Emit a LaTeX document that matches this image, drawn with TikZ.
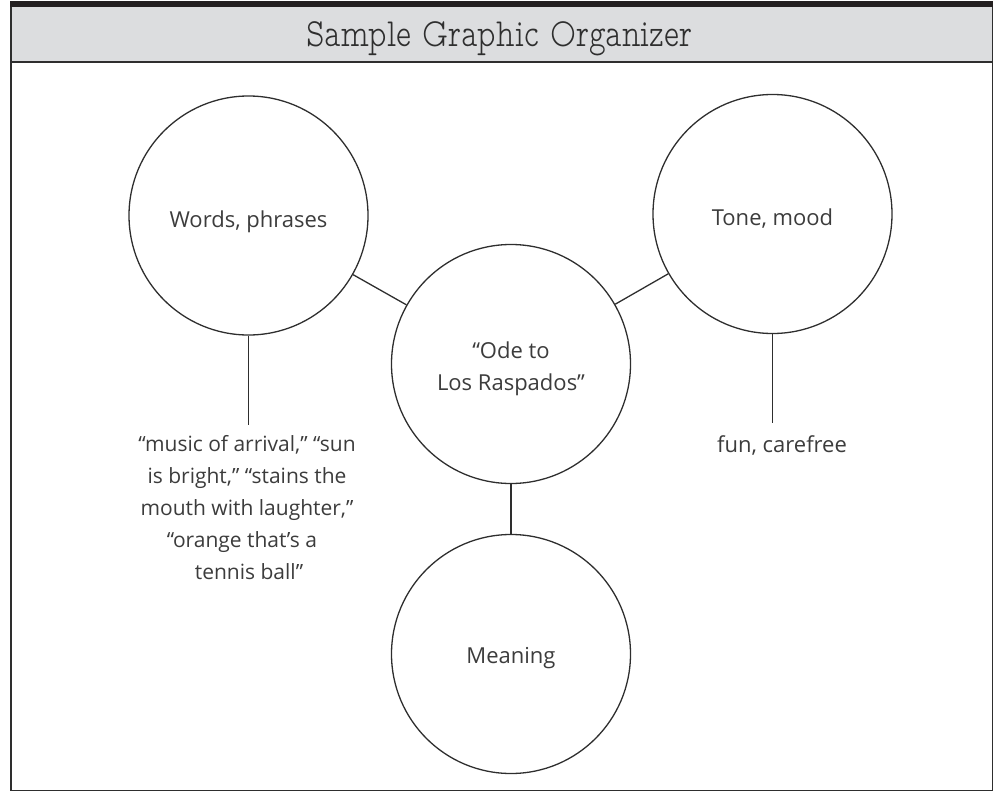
\documentclass[tikz,border=0pt]{standalone}
\usepackage{fontspec}
\setmainfont{Open Sans}
\newfontfamily\titlefont{lmmonoproplt10-regular.otf}
\definecolor{barc}{HTML}{231F20}
\definecolor{headc}{HTML}{DCDDDF}
\definecolor{framec}{HTML}{2E2E2E}
\definecolor{inkc}{HTML}{3C3C3C}
\tikzset{
  bubble/.style={circle, draw=framec, line width=1.3pt, inner sep=0pt, minimum size=239pt},
  link/.style={draw=framec, line width=1.3pt},
  txt/.style={inner sep=0pt, anchor=base, text=inkc, font=\fontsize{22}{32}\selectfont},
  extxt/.style={txt, font=\fontsize{21}{32}\selectfont},
  titletxt/.style={inner sep=0pt, anchor=base, text=framec, font=\titlefont\fontsize{40}{44}\selectfont}
}
\begin{document}
\begin{tikzpicture}[x=1pt,y=-1pt]
\useasboundingbox (0,0) rectangle (996,792);
% frame
\fill[barc] (10,1.5) rectangle (993,7.5);
\fill[headc] (11,7.5) rectangle (992,61);
\draw[framec, line width=1.5pt] (10.75,7) -- (10.75,790.5) -- (992.25,790.5) -- (992.25,7);
\draw[framec, line width=2pt] (10,62) -- (993,62);
\node[titletxt] (title) at (499.5,47) {\scalebox{0.795}[1]{Sample Graphic Organizer}};
% circles
\node[bubble] (words) at (248.5,215.5) {};
\node[bubble] (tone) at (772.5,214) {};
\node[bubble] (ode) at (511,364) {};
\node[bubble] (meaning) at (511,654) {};
% texts
\node[txt] (wordsT) at (248.5,227) {Words, phrases};
\node[txt] (toneT) at (772.5,225) {Tone, mood};
\node[txt] (odeT1) at (511,358) {“Ode to};
\node[txt] (odeT2) at (511,390) {Los Raspados”};
\node[txt] (meaningT) at (511,663) {Meaning};
\node[extxt] (ex1) at (247,451) {“music of arrival,” “sun};
\node[extxt] (ex2) at (247,483) {is bright,” “stains the};
\node[extxt] (ex3) at (247,515) {mouth with laughter,”};
\node[extxt] (ex4) at (242,547) {“orange that’s a};
\node[extxt] (ex5) at (249,579) {tennis ball”};
\node[txt] (funT) at (782,452) {fun, carefree};
% connectors
\coordinate (wordsEnd) at (248.5,425);
\coordinate (toneEnd) at (772.5,423);
\draw[link] (words) -- (ode);
\draw[link] (tone) -- (ode);
\draw[link] (ode) -- (meaning);
\draw[link] (words.south) -- (wordsEnd);
\draw[link] (tone.south) -- (toneEnd);
\end{tikzpicture}
\end{document}
